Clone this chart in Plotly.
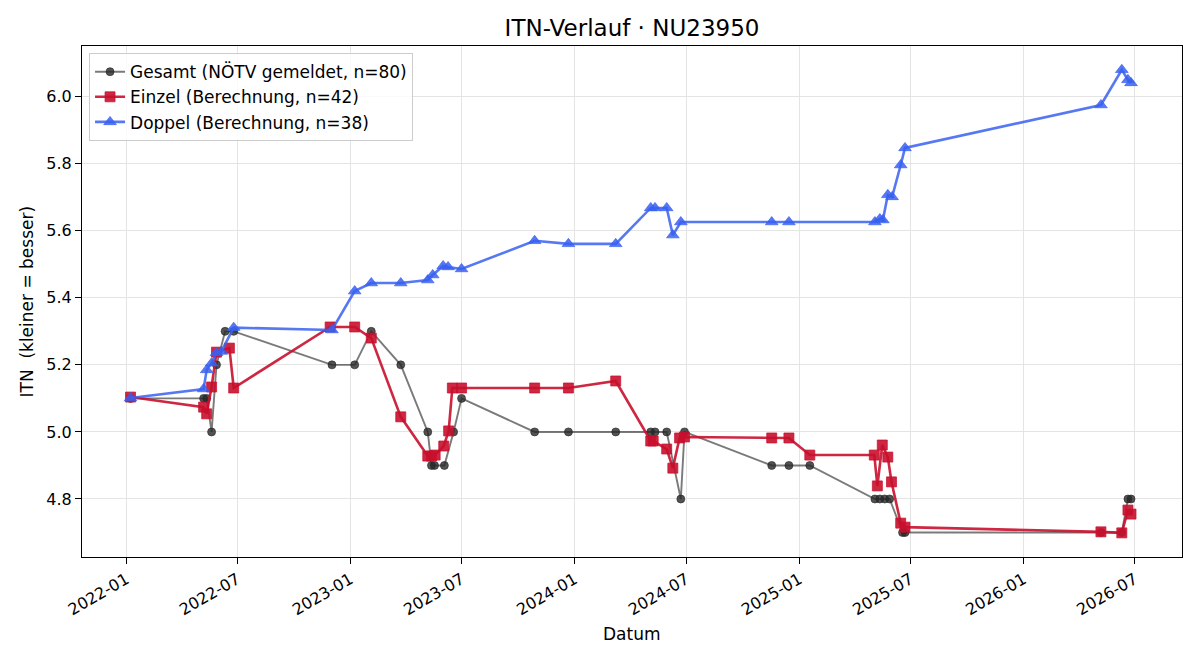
import plotly.graph_objects as go

# ---------------- data ----------------
gesamt_dates = [
    "2022-01-08", "2022-05-07", "2022-05-12", "2022-05-20", "2022-05-28", "2022-06-11", "2022-06-25",
    "2022-12-02", "2023-01-08", "2023-02-04", "2023-03-24", "2023-05-07", "2023-05-13", "2023-05-18",
    "2023-06-03", "2023-06-18", "2023-07-01", "2023-10-28", "2023-12-22", "2024-03-08", "2024-05-04",
    "2024-05-11", "2024-05-30", "2024-06-22", "2024-06-28", "2024-11-17", "2024-12-15", "2025-01-18",
    "2025-05-04", "2025-05-12", "2025-05-20", "2025-05-28", "2025-06-18", "2025-06-22",
    "2026-05-07", "2026-06-10", "2026-06-20", "2026-06-25",
]
gesamt_itn = [
    5.1, 5.1, 5.1, 5.0, 5.2, 5.3, 5.3,
    5.2, 5.2, 5.3, 5.2, 5.0, 4.9, 4.9,
    4.9, 5.0, 5.1, 5.0, 5.0, 5.0, 5.0,
    5.0, 5.0, 4.8, 5.0, 4.9, 4.9, 4.9,
    4.8, 4.8, 4.8, 4.8, 4.7, 4.7,
    4.7, 4.7, 4.8, 4.8,
]

einzel_dates = [
    "2022-01-08", "2022-05-07", "2022-05-12", "2022-05-20", "2022-05-28", "2022-06-18", "2022-06-25",
    "2022-11-29", "2023-01-08", "2023-02-04", "2023-03-24", "2023-05-07", "2023-05-13", "2023-05-19",
    "2023-06-02", "2023-06-10", "2023-06-16", "2023-07-01", "2023-10-28", "2023-12-22", "2024-03-08",
    "2024-05-04", "2024-05-08", "2024-05-30", "2024-06-09", "2024-06-20", "2024-06-28",
    "2024-11-17", "2024-12-15", "2025-01-18", "2025-05-03", "2025-05-08", "2025-05-16", "2025-05-25",
    "2025-05-31", "2025-06-15", "2025-06-22", "2026-05-07", "2026-06-10", "2026-06-20", "2026-06-25",
]
einzel_itn = [
    5.104, 5.074, 5.054, 5.134, 5.238, 5.250, 5.131,
    5.313, 5.313, 5.280, 5.045, 4.928, 4.928, 4.931,
    4.958, 5.003, 5.131, 5.131, 5.131, 5.131, 5.152,
    4.973, 4.973, 4.949, 4.892, 4.982, 4.985,
    4.982, 4.982, 4.931, 4.931, 4.839, 4.961, 4.925,
    4.851, 4.728, 4.716, 4.702, 4.699, 4.767, 4.755,
]

doppel_dates = [
    "2022-01-08", "2022-05-07", "2022-05-12", "2022-05-20", "2022-05-28", "2022-06-05", "2022-06-25",
    "2022-12-02", "2023-01-08", "2023-02-04", "2023-03-24", "2023-05-07", "2023-05-15", "2023-06-01",
    "2023-06-09", "2023-07-01", "2023-10-28", "2023-12-22", "2024-03-08", "2024-05-04", "2024-05-11",
    "2024-05-30", "2024-06-09", "2024-06-22", "2024-11-17", "2024-12-15", "2025-05-04", "2025-05-12",
    "2025-05-17", "2025-05-25", "2025-06-01", "2025-06-15", "2025-06-22",
    "2026-05-07", "2026-06-10", "2026-06-20", "2026-06-25",
]
doppel_itn = [
    5.101, 5.128, 5.185, 5.205, 5.236, 5.240, 5.311,
    5.304, 5.420, 5.444, 5.444, 5.453, 5.468, 5.495,
    5.492, 5.486, 5.570, 5.561, 5.561, 5.668, 5.668,
    5.668, 5.587, 5.626, 5.626, 5.626, 5.626, 5.635,
    5.632, 5.707, 5.701, 5.796, 5.847,
    5.975, 6.080, 6.050, 6.041,
]

title_text = "ITN-Verlauf · NU23950"
x_label = "Datum"
y_label = "ITN\u00a0 (kleiner = besser)"
x_range = ["2021-10-21", "2026-09-16"]
y_range = [4.627, 6.151]

FONT = "DejaVu Sans"

# ---------------- figure ----------------
fig = go.Figure()

fig.add_trace(go.Scatter(
    x=gesamt_dates, y=gesamt_itn, mode="lines+markers",
    name="Gesamt (NÖTV gemeldet, n=80)",
    line=dict(color="rgba(51,51,51,0.65)", width=1.9),
    marker=dict(symbol="circle", size=8, color="rgba(40,40,40,0.8)",
                line=dict(width=0.8, color="rgba(40,40,40,0.8)")),
))
fig.add_trace(go.Scatter(
    x=einzel_dates, y=einzel_itn, mode="lines+markers",
    name="Einzel (Berechnung, n=42)",
    line=dict(color="rgba(200,16,46,0.9)", width=2.6),
    marker=dict(symbol="square", size=10, color="rgba(200,16,46,0.9)",
                line=dict(width=0.8, color="rgba(200,16,46,0.9)")),
))
fig.add_trace(go.Scatter(
    x=doppel_dates, y=doppel_itn, mode="lines+markers",
    name="Doppel (Berechnung, n=38)",
    line=dict(color="rgba(56,96,240,0.85)", width=2.6),
    marker=dict(symbol="triangle-up", size=11, color="rgba(56,96,240,0.85)",
                line=dict(width=0.8, color="rgba(56,96,240,0.85)")),
))

fig.update_layout(
    width=1200, height=660,
    margin=dict(l=82, r=18, t=46, b=103),
    paper_bgcolor="white", plot_bgcolor="white",
    font=dict(family=FONT, size=16, color="black"),
    title=dict(text=title_text, x=0.5267, xanchor="center", y=1 - 28 / 660, yanchor="middle",
               font=dict(family=FONT, size=23, color="black")),
    showlegend=True,
    legend=dict(x=0.0064, y=0.986, xanchor="left", yanchor="top",
                bgcolor="rgba(255,255,255,0.8)", bordercolor="#cccccc", borderwidth=1,
                font=dict(family=FONT, size=17, color="black"),
                tracegroupgap=0, itemwidth=30),
)

fig.update_xaxes(
    type="date", range=x_range, autorange=False,
    tick0="2022-01-01", dtick="M6", tickformat="%Y-%m", tickangle=-30,
    showgrid=True, gridcolor="#e4e4e4", gridwidth=1,
    showline=True, linecolor="black", linewidth=1.2, mirror=True,
    ticks="outside", ticklen=6, tickwidth=1.1, tickcolor="black",
    tickfont=dict(family=FONT, size=16, color="black"),
    zeroline=False, automargin=False,
)
fig.update_yaxes(
    range=y_range, autorange=False,
    tick0=4.8, dtick=0.2, tickformat=".1f",
    showgrid=True, gridcolor="#e4e4e4", gridwidth=1,
    showline=True, linecolor="black", linewidth=1.2, mirror=True,
    ticks="outside", ticklen=6, tickwidth=1.1, tickcolor="black",
    tickfont=dict(family=FONT, size=16, color="black"),
    zeroline=False, automargin=False,
)

fig.add_annotation(text=x_label, xref="paper", yref="paper", x=0.5, y=-(634 - 557) / 511,
                   xanchor="center", yanchor="middle", showarrow=False,
                   font=dict(family=FONT, size=17, color="black"))
fig.add_annotation(text=y_label, xref="paper", yref="paper", x=-(82 - 26) / 1100, y=0.5,
                   xanchor="center", yanchor="middle", showarrow=False, textangle=-90,
                   font=dict(family=FONT, size=17, color="black"))

fig.write_html("out.html")
